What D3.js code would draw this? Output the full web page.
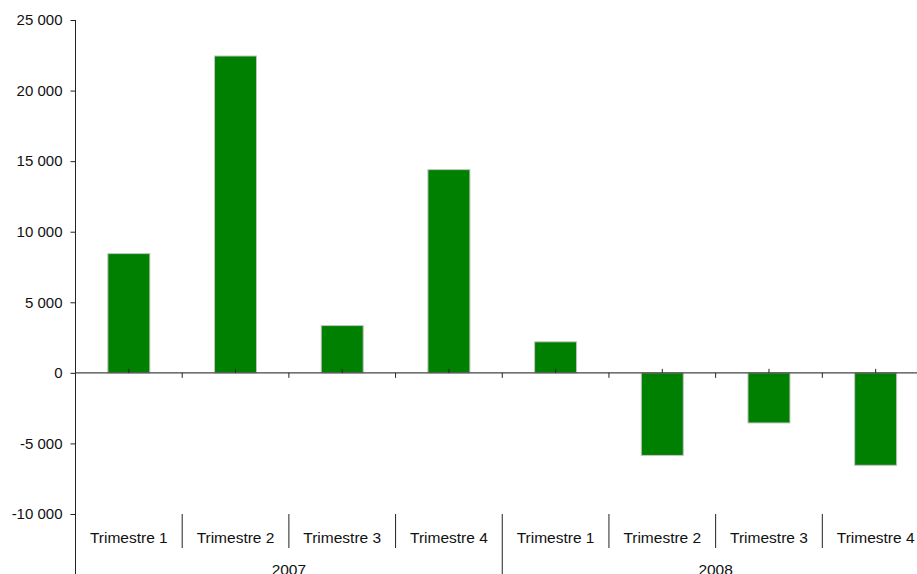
<!DOCTYPE html>
<html>
<head>
<meta charset="utf-8">
<script src="https://cdn.jsdelivr.net/npm/d3@7"></script>
<style>
  body { margin: 0; background: #fff; }
  svg { display: block; font-family: "Liberation Sans", Arial, Helvetica, sans-serif; }
</style>
</head>
<body>
<svg id="chart" width="917" height="574"></svg>
<script>
// Data
const years = ["2007", "2008"];
const quarters = ["Trimestre 1", "Trimestre 2", "Trimestre 3", "Trimestre 4"];
const values = [8450, 22450, 3350, 14400, 2200, -5850, -3550, -6550];
const yTicks = [-10000, -5000, 0, 5000, 10000, 15000, 20000, 25000];

const svg = d3.select("#chart");
const plotLeft = 75.5, plotRight = 929, plotTop = 20, plotBottom = 514;

const categories = [];
years.forEach(yr => quarters.forEach(q => categories.push({ year: yr, q, key: yr + "|" + q })));

const x = d3.scaleBand()
    .domain(categories.map(d => d.key))
    .range([plotLeft, plotRight])
    .paddingInner(0)
    .paddingOuter(0);

const y = d3.scaleLinear()
    .domain([-10000, 25000])
    .range([plotBottom, plotTop]);

const fmt = v => d3.format(",")(v).replace(/,/g, " ").replace("−", "-");

// Y axis
const yAxis = svg.append("g")
    .attr("transform", `translate(${plotLeft},0)`)
    .call(d3.axisLeft(y).tickValues(yTicks).tickSize(5).tickPadding(8).tickFormat(fmt));
yAxis.select(".domain").remove();
yAxis.selectAll("line").attr("stroke", "#222");
yAxis.selectAll("text")
    .attr("font-size", "15px")
    .attr("fill", "#111")
    .attr("font-family", "'Liberation Sans', Arial, sans-serif");

// Y axis line (extends down as first separator)
svg.append("line")
    .attr("x1", plotLeft).attr("x2", plotLeft)
    .attr("y1", plotTop).attr("y2", 574)
    .attr("stroke", "#222").attr("stroke-width", 1);

// Bars
const bw = 42;
svg.append("g")
    .selectAll("rect")
    .data(values)
    .enter().append("rect")
    .attr("x", (d, i) => x(categories[i].key) + x.bandwidth() / 2 - bw / 2)
    .attr("y", d => y(Math.max(0, d)))
    .attr("width", bw)
    .attr("height", d => Math.abs(y(d) - y(0)))
    .attr("fill", "#008000")
    .attr("stroke", "#c4c4c4")
    .attr("stroke-width", 1);

// Zero line
const y0 = y(0);
svg.append("line")
    .attr("x1", plotLeft).attr("x2", plotRight)
    .attr("y1", y0).attr("y2", y0)
    .attr("stroke", "#444").attr("stroke-width", 1.2);

// Ticks on zero line
const tg = svg.append("g").attr("stroke", "#222");
categories.forEach((c, i) => {
    const cx = x(c.key) + x.bandwidth() / 2;
    tg.append("line").attr("x1", cx).attr("x2", cx).attr("y1", y0 - 4).attr("y2", y0);
    if (i > 0) {
        const bx = x(c.key);
        tg.append("line").attr("x1", bx).attr("x2", bx).attr("y1", y0).attr("y2", y0 + 5);
    }
});

// Category labels and separators
const lg = svg.append("g");
categories.forEach((c, i) => {
    const bx = x(c.key);
    lg.append("text")
        .attr("x", bx + x.bandwidth() / 2)
        .attr("y", 543)
        .attr("text-anchor", "middle")
        .attr("font-size", "15.5px")
        .attr("fill", "#111")
        .text(c.q);
    if (i > 0) {
        const long = i % quarters.length === 0;
        lg.append("line")
            .attr("x1", bx).attr("x2", bx)
            .attr("y1", plotBottom).attr("y2", long ? 574 : 548)
            .attr("stroke", "#222").attr("stroke-width", 1);
    }
});

// Year labels
years.forEach(yr => {
    const first = x(yr + "|" + quarters[0]);
    const last = x(yr + "|" + quarters[quarters.length - 1]) + x.bandwidth();
    lg.append("text")
        .attr("x", (first + last) / 2)
        .attr("y", 575)
        .attr("text-anchor", "middle")
        .attr("font-size", "15.5px")
        .attr("fill", "#111")
        .text(yr);
});
</script>
</body>
</html>
